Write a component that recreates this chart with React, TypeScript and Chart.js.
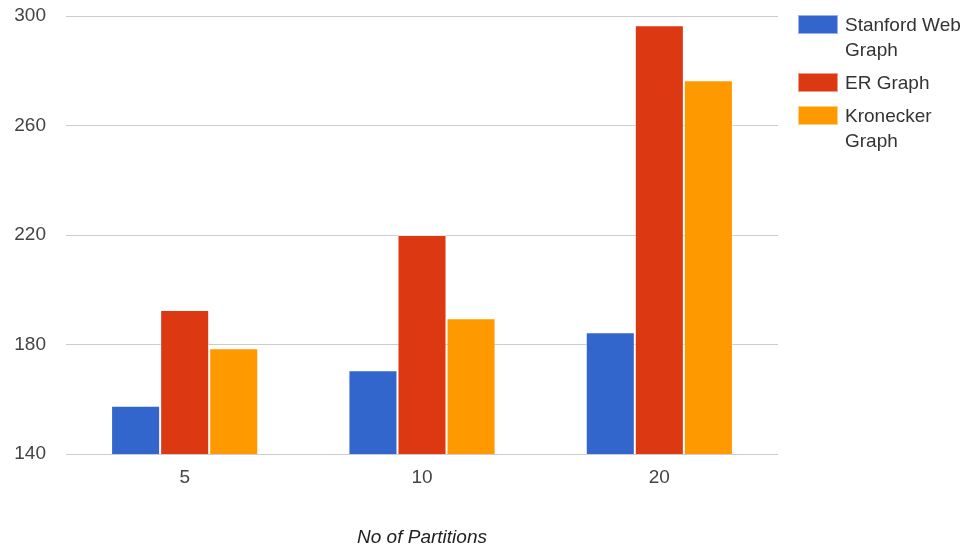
import React, { useEffect, useRef } from "react";
import { Chart, registerables } from "chart.js";

Chart.register(...registerables);

const categories = ["5", "10", "20"];
const stanfordWeb = [157.6, 170.6, 184.5];
const erGraph = [192.6, 220, 296.6];
const kronecker = [178.6, 189.6, 276.5];
const yTicks = [140, 180, 220, 260, 300];

const seriesNames = ["Stanford Web Graph", "ER Graph", "Kronecker Graph"];
const colors = ["#3366cc", "#dc3912", "#ff9900"];
const FONT = "Arial, 'Liberation Sans', sans-serif";

export default function App() {
  const ref = useRef<HTMLCanvasElement | null>(null);
  useEffect(() => {
    if (!ref.current) return;
    const chart = new Chart(ref.current, {
      type: "bar",
      data: {
        labels: categories,
        datasets: [stanfordWeb, erGraph, kronecker].map((d, i) => ({
          label: seriesNames[i],
          data: d,
          backgroundColor: colors[i],
          borderColor: "rgba(255,255,255,0.6)",
          borderWidth: 1,
          categoryPercentage: 0.62,
          barPercentage: 1,
        })),
      },
      options: {
        animation: false,
        responsive: false,
        maintainAspectRatio: false,
        layout: { padding: { top: 16, right: 194, bottom: 0, left: 0 } },
        plugins: { legend: { display: false }, tooltip: { enabled: false } },
        scales: {
          x: {
            grid: { display: false, drawTicks: false },
            border: { display: false },
            ticks: { color: "#444", font: { family: FONT, size: 19 }, padding: 12 },
            title: {
              display: true,
              text: "No of Partitions",
              color: "#222",
              font: { family: FONT, size: 19, style: "italic" },
              padding: { top: 30, bottom: 1 },
            },
            afterFit: (s: any) => {
              s.height = 96;
            },
          },
          y: {
            min: 140,
            max: 300,
            afterBuildTicks: (s: any) => {
              s.ticks = yTicks.map((v) => ({ value: v }));
            },
            grid: { color: "#cccccc", drawTicks: false, lineWidth: 1 },
            border: { display: false },
            ticks: { color: "#444", font: { family: FONT, size: 19 }, padding: 20 },
            afterFit: (s: any) => {
              s.width = 66;
              s.paddingTop = 0;
              s.paddingBottom = 0;
            },
          },
        },
      },
    });
    return () => chart.destroy();
  }, []);

  const legendTops = [12, 70, 103];
  return (
    <div style={{ position: "fixed", left: 0, top: 0, width: 972, height: 550, background: "#fff" }}>
      <canvas ref={ref} width={972} height={550} style={{ width: 972, height: 550, display: "block" }} />
      {seriesNames.map((n, i) => (
        <div key={n} style={{ position: "absolute", left: 798, top: legendTops[i], width: 174 }}>
          <div
            style={{
              position: "absolute",
              left: 0,
              top: 3,
              width: 40,
              height: 19,
              background: colors[i],
              boxSizing: "border-box",
              border: "1px solid rgba(255,255,255,0.5)",
            }}
          />
          <div
            style={{
              position: "absolute",
              left: 47,
              top: 0,
              width: 125,
              fontFamily: FONT,
              fontSize: 19,
              lineHeight: "25px",
              color: "#333",
            }}
          >
            {n}
          </div>
        </div>
      ))}
    </div>
  );
}
